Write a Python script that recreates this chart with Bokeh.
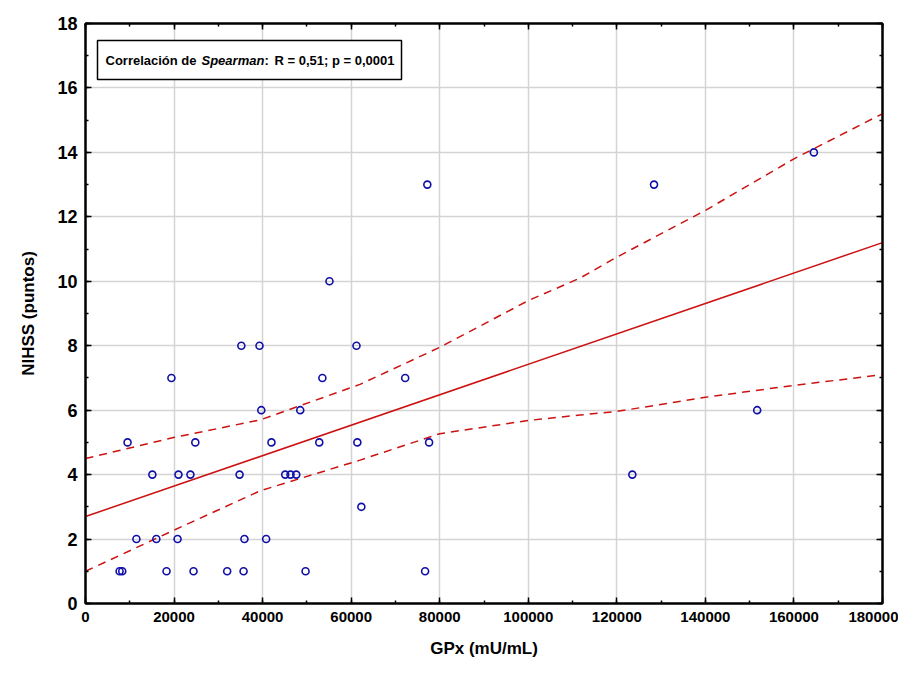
from bokeh.plotting import figure
from bokeh.models import LinearAxis, FixedTicker, Range1d, BasicTickFormatter
from bokeh.core.properties import value
from bokeh.embed import file_html
from bokeh.resources import INLINE

# GPx (mU/mL) and NIHSS values
gpx = [7700, 8300, 18300, 24400, 32000, 35700, 49700, 76700,
       11500, 16000, 20800, 35900, 40800,
       62300,
       15100, 21000, 23700, 34800, 45100, 46300, 47600, 123500,
       9500, 24800, 42000, 52800, 61400, 77600,
       39700, 48500, 151700,
       19400, 53500, 72200,
       35200, 39300, 61200,
       55100,
       77200, 128400,
       164500]
nihss = [1, 1, 1, 1, 1, 1, 1, 1,
         2, 2, 2, 2, 2,
         3,
         4, 4, 4, 4, 4, 4, 4, 4,
         5, 5, 5, 5, 5, 5,
         6, 6, 6,
         7, 7, 7,
         8, 8, 8,
         10,
         13, 13,
         14]

# regression line and confidence band
fit_x = [0, 180000]
fit_y = [2.7, 11.2]
band_x = [0, 19900, 39500, 62000, 80000, 100000, 111700, 120000, 140000, 160000, 180000]
band_upper = [4.5, 5.15, 5.7, 6.8, 7.95, 9.4, 10.1, 10.75, 12.2, 13.8, 15.2]
band_lower = [1.0, 2.27, 3.5, 4.45, 5.27, 5.68, 5.85, 5.96, 6.4, 6.77, 7.1]

x_ticks = list(range(0, 180001, 20000))
x_minor = list(range(0, 180001, 10000))
y_ticks = list(range(0, 19, 2))
y_minor = list(range(0, 19, 1))

FONT = "Liberation Sans"
RED = "#cc1111"
BLUE = "#1010a8"

p = figure(width=898, height=672, output_backend="svg", toolbar_location=None,
           x_range=Range1d(0, 180000), y_range=Range1d(0, 18),
           min_border_left=85, min_border_right=16, min_border_top=23,
           min_border_bottom=69)
p.background_fill_color = "white"
p.border_fill_color = "white"
p.outline_line_color = "black"
p.outline_line_width = 2

p.xaxis.ticker = FixedTicker(ticks=x_ticks, minor_ticks=x_minor)
p.yaxis.ticker = FixedTicker(ticks=y_ticks, minor_ticks=y_minor)
p.xaxis.formatter = BasicTickFormatter(use_scientific=False)

for ax in [p.xaxis[0], p.yaxis[0]]:
    ax.major_tick_in = 6
    ax.major_tick_out = 0
    ax.minor_tick_in = 3
    ax.minor_tick_out = 0
    ax.axis_line_color = "black"
    ax.axis_line_width = 2
    ax.major_tick_line_color = "black"
    ax.minor_tick_line_color = "black"
    ax.major_tick_line_width = 1.5
    ax.minor_tick_line_width = 1.5
    ax.major_label_text_font = FONT
    ax.major_label_text_font_style = "bold"
    ax.major_label_text_color = "black"
    ax.axis_label_text_font = FONT
    ax.axis_label_text_font_style = "bold"
    ax.axis_label_text_font_size = "17px"
    ax.axis_label_text_color = "black"
    ax.major_label_standoff = 8

p.xaxis.major_label_text_font_size = "15px"
p.yaxis.major_label_text_font_size = "18px"
p.xaxis.axis_label = "GPx (mU/mL)"
p.yaxis.axis_label = "NIHSS (puntos)"
p.xaxis.axis_label_standoff = 14
p.yaxis.axis_label_standoff = 16

# top and right axes with inward ticks, no labels
top = LinearAxis(ticker=FixedTicker(ticks=x_ticks, minor_ticks=x_minor))
right = LinearAxis(ticker=FixedTicker(ticks=y_ticks, minor_ticks=y_minor))
for ax in [top, right]:
    ax.major_tick_in = 6
    ax.major_tick_out = 0
    ax.minor_tick_in = 3
    ax.minor_tick_out = 0
    ax.axis_line_color = "black"
    ax.axis_line_width = 2
    ax.major_tick_line_width = 1.5
    ax.minor_tick_line_width = 1.5
    ax.major_label_standoff = 0
    ax.major_label_text_font_size = "1px"
    ax.major_label_text_color = None
p.add_layout(top, "above")
p.add_layout(right, "right")

p.xgrid.grid_line_color = "#d4d4d4"
p.ygrid.grid_line_color = "#d4d4d4"
p.xgrid.grid_line_width = 1.5
p.ygrid.grid_line_width = 1.5

# confidence bands and regression line
p.line(band_x, band_upper, line_color=RED, line_width=1.5, line_dash="8 6")
p.line(band_x, band_lower, line_color=RED, line_width=1.5, line_dash="8 6")
p.line(fit_x, fit_y, line_color=RED, line_width=1.5)

# data points
p.scatter(gpx, nihss, marker="circle", size=7, fill_color=None,
          line_color=BLUE, line_width=1.6)

# annotation box
p.quad(left=[2710], right=[71369], bottom=[16.26], top=[17.47],
       fill_color="white", line_color="black", line_width=1.5)
ty = 16.86
common = dict(text_font=value(FONT), text_font_size="13px",
              text_baseline="middle", text_color="black")
p.text(x=[4517], y=[ty], text=["Correlación de"], text_font_style="bold", **common)
p.text(x=[26199], y=[ty], text=["Spearman"], text_font_style="bold italic", **common)
p.text(x=[40427], y=[ty], text=[":"], text_font_style="bold", **common)
p.text(x=[42686], y=[ty], text=["R = 0,51; p = 0,0001"], text_font_style="bold", **common)

open("out.html", "w").write(file_html(p, INLINE))
